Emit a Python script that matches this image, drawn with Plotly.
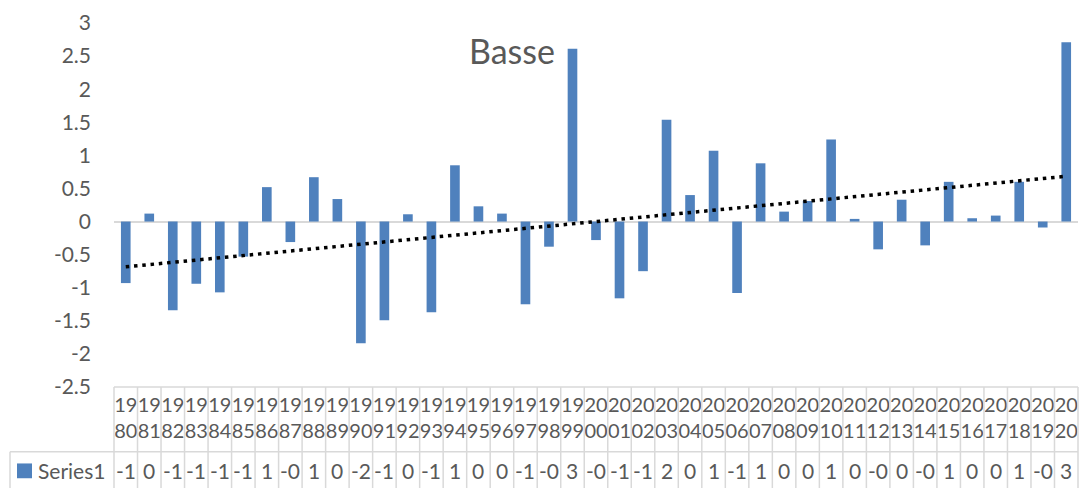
import numpy as np
import plotly.graph_objects as go

# ---- data ----
years = [str(y) for y in range(1980, 2021)]
values = [-0.93, 0.12, -1.34, -0.94, -1.07, -0.53, 0.52, -0.31, 0.67, 0.34,
          -1.84, -1.49, 0.11, -1.37, 0.85, 0.23, 0.12, -1.25, -0.38, 2.61,
          -0.28, -1.16, -0.75, 1.54, 0.40, 1.07, -1.08, 0.88, 0.15, 0.31,
          1.24, 0.04, -0.42, 0.33, -0.36, 0.60, 0.05, 0.09, 0.60, -0.09,
          2.71]
series_name = "Series1"
title_text = "Basse"
y_ticks = [-2.5, -2, -1.5, -1, -0.5, 0, 0.5, 1, 1.5, 2, 2.5, 3]

# ---- layout geometry (pixels) ----
W, H = 1087, 488
L, R, T, B = 114, 1078, 18, 387
PW, PH = R - L, B - T

def px(xp):
    return (xp - L) / PW

def py(yp):
    return (B - yp) / PH

FONT = "Lato, Carlito, Calibri, sans-serif"
GRAY = "#595959"
GRID = "#d9d9d9"
BLUE = "#4F81BD"

# linear trend through the library's numeric fit
idx = np.arange(len(values))
slope, intercept = np.polyfit(idx, values, 1)
trend = slope * idx + intercept

fig = go.Figure()
fig.add_trace(go.Bar(x=years, y=values, marker=dict(color=BLUE, line=dict(width=0)),
                     name=series_name))
fig.add_trace(go.Scatter(x=years, y=trend, mode="lines",
                         line=dict(color="black", width=3.5, dash="3.5px,4.8px"),
                         hoverinfo="skip"))

def fmt_tick(v):
    return "%g" % v

def fmt_val(v):
    return f"{v:.0f}"

shapes = []
# table top border and row separator
shapes.append(dict(type="line", xref="paper", yref="paper", x0=0, x1=1, y0=0, y1=0,
                   line=dict(color=GRID, width=1.5)))
shapes.append(dict(type="line", xref="paper", yref="paper", x0=px(10), x1=1,
                   y0=py(452.7), y1=py(452.7), line=dict(color=GRID, width=1.5)))
# left border of legend cell
shapes.append(dict(type="line", xref="paper", yref="paper", x0=px(10), x1=px(10),
                   y0=py(452.7), y1=py(H + 2), line=dict(color=GRID, width=1.5)))
# vertical cell borders
n = len(years)
for i in range(n + 1):
    xp = L + PW * i / n
    shapes.append(dict(type="line", xref="paper", yref="paper", x0=px(xp), x1=px(xp),
                       y0=0, y1=py(H + 2), line=dict(color=GRID, width=1.5)))
# legend key
shapes.append(dict(type="rect", xref="paper", yref="paper", x0=px(17), x1=px(32),
                   y0=py(464.5), y1=py(479.5), fillcolor=BLUE, line=dict(width=0)))

annotations = []
for i, v in enumerate(values):
    annotations.append(dict(x=i, xref="x", yref="paper", y=py(472), text=fmt_val(v),
                            showarrow=False, xanchor="center", yanchor="middle",
                            font=dict(family=FONT, size=21, color=GRAY)))
annotations.append(dict(x=px(36), xref="paper", yref="paper", y=py(472), text=series_name,
                        showarrow=False, xanchor="left", yanchor="middle",
                        font=dict(family=FONT, size=21, color=GRAY)))
annotations.append(dict(x=px(512), xref="paper", y=py(46), yref="paper",
                        text=title_text, showarrow=False, xanchor="center", yanchor="middle",
                        font=dict(family=FONT, size=34, color=GRAY)))

fig.update_layout(
    width=W, height=H,
    margin=dict(l=L, r=W - R, t=T, b=H - B),
    paper_bgcolor="white", plot_bgcolor="white",
    showlegend=False,
    bargap=0.59,
    shapes=shapes,
    annotations=annotations,
    xaxis=dict(type="category", tickvals=years,
               ticktext=[y[:2] + "<br>" + y[2:] for y in years],
               tickfont=dict(family=FONT, size=20, color=GRAY),
               showgrid=False, zeroline=False, showline=False, ticks="",
               ticklabelstandoff=4, tickangle=0, range=[-0.5, n - 0.5]),
    yaxis=dict(range=[-2.5, 3], tickvals=y_ticks,
               ticktext=[fmt_tick(v) for v in y_ticks],
               tickfont=dict(family=FONT, size=21, color=GRAY),
               showgrid=False, zeroline=True, zerolinecolor=GRID, zerolinewidth=1.5,
               showline=False, ticks="", ticklabelstandoff=22),
)

fig.write_html("out.html")
